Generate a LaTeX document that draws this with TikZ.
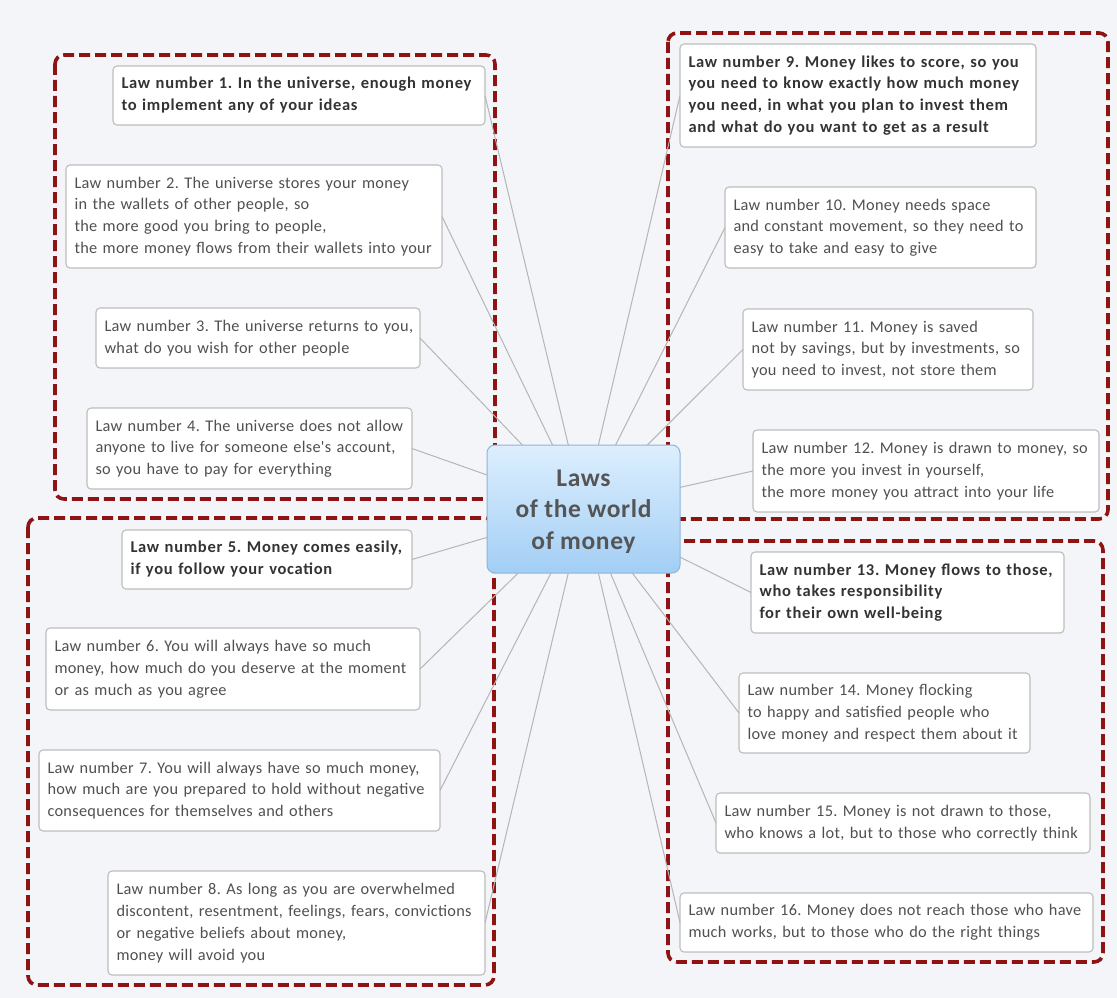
\documentclass[tikz,border=0pt]{standalone}
\usepackage{fontspec}
\setmainfont{Carlito}
\newfontfamily\lawfont[LetterSpace=1.9]{Carlito}
\newfontfamily\lawboldfont[LetterSpace=4.3]{Carlito}
\newfontfamily\hubfont[LetterSpace=2.5]{Carlito}
\frenchspacing
\definecolor{bg}{HTML}{F4F5F8}
\definecolor{grpred}{HTML}{8E1414}
\definecolor{boxline}{HTML}{BDBDBD}
\definecolor{lawtext}{HTML}{505050}
\definecolor{boldtext}{HTML}{333333}
\definecolor{conncol}{HTML}{B5B5B5}
\definecolor{ctop}{HTML}{DDEFFE}
\definecolor{cbot}{HTML}{A2CEF4}
\definecolor{cline}{HTML}{8DB5D9}
\definecolor{ctext}{HTML}{555555}
\newcommand\lawlines[1]{\begin{tabular}{@{}l@{}}#1\end{tabular}}
\newcommand\hublines[1]{\raisebox{-2.5pt}[\height][\depth]{\begin{tabular}{@{}c@{}}#1\end{tabular}}}
\tikzset{
  grp/.style={draw=grpred, line width=3.6pt, dash pattern=on 11pt off 5pt, rounded corners=9pt},
  law/.style={draw=boxline, fill=white, rounded corners=4pt, line width=1.1pt,
    inner xsep=8.5pt, inner ysep=0pt, outer sep=0pt, align=left, anchor=north west,
    font=\lawfont\fontsize{16.3}{21.8}\selectfont\frenchspacing, text=lawtext},
  boldlaw/.style={law, font=\lawboldfont\bfseries\fontsize{16.5}{21.8}\selectfont\frenchspacing, text=boldtext},
  hub/.style={draw=cline, line width=1pt, rounded corners=8pt, top color=ctop, bottom color=cbot,
    align=center, anchor=north west, outer sep=0pt, inner sep=0pt, text=ctext,
    font=\hubfont\bfseries\fontsize{25.5}{31.5}\selectfont},
  conn/.style={draw=conncol, line width=1pt}
}
\begin{document}
\begin{tikzpicture}[x=1pt,y=-1pt]
\useasboundingbox (0,0) rectangle (1117,998);
\fill[bg] (0,0) rectangle (1117,998);
% groups
\draw[grp] (55,55) rectangle (495,499);
\draw[grp] (668,33) rectangle (1108,519);
\draw[grp] (28,518) rectangle (494,985);
\draw[grp] (668,541) rectangle (1103,962);
% hub
\node[hub, minimum width=193pt, minimum height=128pt] (c) at (487,445) {\hublines{Laws\\of the world\\of money}};
% left boxes
\node[boldlaw, text width=355pt, minimum height=59pt] (l1) at (113,66) {\lawlines{Law number 1. In the universe, enough money\\to implement any of your ideas}};
\node[law, text width=359pt, minimum height=103pt] (l2) at (66,165) {\lawlines{Law number 2. The universe stores your money\\in the wallets of other people, so\\the more good you bring to people,\\the more money flows from their wallets into your}};
\node[law, text width=307pt, minimum height=60pt] (l3) at (96,308) {\lawlines{Law number 3. The universe returns to you,\\what do you wish for other people}};
\node[law, text width=308pt, minimum height=81pt] (l4) at (87,408) {\lawlines{Law number 4. The universe does not allow\\anyone to live for someone else's account,\\so you have to pay for everything}};
\node[boldlaw, text width=273pt, minimum height=59pt] (l5) at (122,530) {\lawlines{Law number 5. Money comes easily,\\if you follow your vocation}};
\node[law, text width=357pt, minimum height=82pt] (l6) at (46,628) {\lawlines{Law number 6. You will always have so much\\money, how much do you deserve at the moment\\or as much as you agree}};
\node[law, text width=384pt, minimum height=81pt] (l7) at (39,750) {\lawlines{Law number 7. You will always have so much money,\\how much are you prepared to hold without negative\\consequences for themselves and others}};
\node[law, text width=360pt, minimum height=104pt] (l8) at (108,871) {\lawlines{Law number 8. As long as you are overwhelmed\\discontent, resentment, feelings, fears, convictions\\or negative beliefs about money,\\money will avoid you}};
% right boxes
\node[boldlaw, text width=339pt, minimum height=103pt] (r9) at (680,44) {\lawlines{Law number 9. Money likes to score, so you\\you need to know exactly how much money\\you need, in what you plan to invest them\\and what do you want to get as a result}};
\node[law, text width=294pt, minimum height=81pt] (r10) at (725,187) {\lawlines{Law number 10. Money needs space\\and constant movement, so they need to\\easy to take and easy to give}};
\node[law, text width=273pt, minimum height=81pt] (r11) at (743,309) {\lawlines{Law number 11. Money is saved\\not by savings, but by investments, so\\you need to invest, not store them}};
\node[law, text width=329pt, minimum height=82pt] (r12) at (753,430) {\lawlines{Law number 12. Money is drawn to money, so\\the more you invest in yourself,\\the more money you attract into your life}};
\node[boldlaw, text width=296pt, minimum height=81pt] (r13) at (751,552) {\lawlines{Law number 13. Money flows to those,\\who takes responsibility\\for their own well-being}};
\node[law, text width=274pt, minimum height=80pt] (r14) at (739,673) {\lawlines{Law number 14. Money flocking\\to happy and satisfied people who\\love money and respect them about it}};
\node[law, text width=357pt, minimum height=60pt] (r15) at (716,793) {\lawlines{Law number 15. Money is not drawn to those,\\who knows a lot, but to those who correctly think}};
\node[law, text width=396pt, minimum height=59pt] (r16) at (680,893) {\lawlines{Law number 16. Money does not reach those who have\\much works, but to those who do the right things}};
% connectors
\foreach \n in {l1,l2,l3,l4,l5,l6,l7,l8}{\draw[conn] (\n.east) -- (c);}
\foreach \n in {r9,r10,r11,r12,r13,r14,r15,r16}{\draw[conn] (\n.west) -- (c);}
\end{tikzpicture}
\end{document}
